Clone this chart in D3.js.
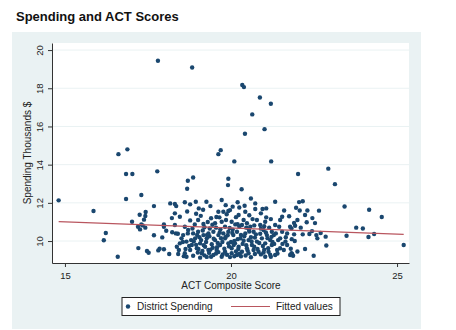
<!DOCTYPE html>
<html><head><meta charset="utf-8">
<script src="https://cdn.jsdelivr.net/npm/d3@7"></script>
<style>body{margin:0;background:#fff}svg{display:block}text{font-family:"Liberation Sans",Arial,sans-serif}</style>
</head><body><svg id="c" width="456" height="330"></svg>
<script>
const chartTitle = "Spending and ACT Scores";
const xTitle = "ACT Composite Score";
const yTitle = "Spending Thousands $";
const xTicks = [15, 20, 25];
const yTicks = [10, 12, 14, 16, 18, 20];
const legendLabels = ["District Spending", "Fitted values"];
// [ACT composite score, spending in thousands $]
const districts = [
[17.80,19.44],[18.83,19.09],[20.34,18.17],[20.39,18.06],[20.87,17.52],[21.20,17.19],[20.64,16.63],[21.01,15.86],[20.42,15.62],[16.88,14.80],[16.61,14.55],[19.69,14.76],[19.62,14.55],[20.10,14.17],[21.21,14.17],[17.78,13.65],[16.84,13.51],[17.03,13.51],[22.02,13.51],[22.93,13.79],[23.13,12.98],[18.70,13.16],[18.86,13.33],[18.68,12.74],[19.92,13.26],[19.91,12.93],[20.32,12.71],
[14.81,12.13],[15.86,11.57],[16.84,12.20],[17.30,12.41],[17.68,11.83],[17.02,11.01],[17.25,11.38],[17.43,11.52],[17.42,11.31],[17.30,10.87],[17.20,10.75],[17.26,10.61],[17.42,10.70],[16.23,10.42],[16.17,10.04],[16.59,9.18],[17.21,9.63],[17.47,9.48],[17.52,9.39],[17.68,10.30],[17.81,9.51],[17.85,9.60],[17.98,9.57],[18.14,9.32],[17.93,10.19],[18.05,10.54],[17.98,10.87],[17.98,10.75],[18.17,11.97],[18.31,11.94],[18.35,11.83],[18.31,11.45],[18.22,11.20],[18.46,11.27],[18.23,10.46],[18.34,10.40],[18.40,10.38],[18.37,9.70],[18.43,9.53],[18.46,9.88],[17.38,11.12],[17.34,10.82],[18.41,9.32],[18.58,9.21],[18.63,9.58],
[18.61,12.03],[18.77,11.92],[18.94,12.06],[19.26,12.06],[19.38,11.83],[19.72,12.15],[19.84,11.88],[19.97,11.62],[19.03,11.71],[19.16,11.64],[18.68,11.55],[19.62,11.53],[19.77,11.53],[19.92,11.57],[18.95,11.43],[19.09,11.32],[19.40,11.19],[19.56,11.26],[19.65,11.24],[19.87,11.40],[18.77,11.08],[19.01,11.10],[19.17,10.89],[18.91,10.87],[19.36,10.66],[19.52,10.93],[19.72,11.01],[18.31,10.84],[18.61,10.75],[19.82,10.75],[20.02,11.01],[18.56,10.31],[18.71,10.58],[18.86,10.40],[19.01,10.49],[19.17,10.31],[19.32,10.40],[19.47,10.49],[19.62,10.31],[19.77,10.40],[19.92,10.49],[20.07,10.31],[18.51,10.14],[18.92,10.14],[19.27,10.14],[19.52,10.05],[19.82,10.14],[18.66,9.97],[18.82,9.79],[19.07,9.88],[19.22,9.70],[19.42,9.83],[19.67,9.79],[19.92,9.88],[20.02,9.62],[18.77,9.53],[18.97,9.62],[19.32,9.53],[19.57,9.53],[19.82,9.44],[19.12,9.36],[18.61,9.36],[20.02,9.36],[18.86,9.23],[19.47,9.27],[19.72,9.18],[19.97,9.16],[18.66,9.18],[19.27,9.17],[19.07,9.13],
[20.60,12.23],[21.33,12.06],[20.20,12.03],[20.05,11.80],[20.25,11.76],[20.41,11.85],[20.73,11.97],[20.73,11.68],[20.95,11.68],[21.06,11.71],[20.23,11.36],[20.43,11.53],[20.65,11.15],[20.78,11.10],[21.06,11.24],[21.54,11.27],[21.48,11.10],[20.38,11.10],[20.48,10.93],[20.33,10.84],[20.13,10.87],[20.58,10.75],[21.23,10.49],[21.29,10.31],[21.54,10.49],[21.69,10.40],[21.82,10.66],[21.64,9.97],[21.48,9.62],[21.59,9.53],[21.82,9.36],[21.23,9.79],[21.03,9.88],[20.93,10.14],[20.78,9.97],[20.63,9.79],[20.48,9.62],[20.33,9.44],[20.18,9.27],[20.53,9.36],[20.83,9.44],[21.13,9.44],[21.33,9.27],[21.03,9.18],[20.18,10.49],[20.43,10.40],[20.68,10.49],[20.98,10.58],[21.08,10.31],[20.28,10.14],[20.53,10.05],[20.08,9.79],[21.33,10.84],[20.88,10.84],[21.03,11.01],[21.69,9.79],[21.48,10.14],[21.39,9.53],[20.68,9.53],[20.23,9.70],[21.18,10.05],
[22.05,12.04],[22.16,12.08],[21.96,11.74],[22.07,11.60],[22.65,11.59],[23.42,11.81],[22.23,11.36],[22.28,10.98],[22.53,10.94],[21.93,10.80],[21.78,10.75],[22.44,10.52],[22.36,10.37],[22.16,10.35],[21.90,10.35],[22.57,10.31],[22.70,10.42],[22.85,10.23],[22.60,10.14],[21.83,10.10],[21.92,10.00],[23.48,10.28],[22.23,9.58],[22.87,9.77],[22.49,9.23],[21.84,9.32],[21.87,9.23],[21.78,9.27],
[24.16,11.64],[24.54,11.26],[23.77,10.70],[23.97,10.66],[24.14,10.21],[24.31,10.37],[25.20,9.79],
[19.05,10.20],[19.15,10.55],[19.25,9.95],[19.35,10.25],[19.45,9.65],[19.55,10.70],[19.60,9.90],[19.70,10.15],[19.80,9.60],[19.90,10.30],[20.00,9.95],[20.05,10.60],[20.15,9.45],[20.20,10.10],[20.25,10.75],[20.35,9.85],[20.40,10.25],[20.50,9.50],[20.55,10.50],[20.60,10.20],[20.70,9.70],[20.75,10.35],[20.85,9.90],[20.90,10.65],[21.00,9.55],[21.10,10.15],[21.15,10.70],[21.25,9.95],[21.35,10.40],[21.40,9.35],[19.00,9.40],[19.20,9.25],[19.40,9.18],[19.55,9.35],[19.75,9.30],[20.10,9.20],[20.30,9.20],[20.60,9.15],[20.90,9.30],[21.20,9.18],[18.80,10.05],[18.95,9.80],[18.70,10.40],[18.55,9.95],[19.30,11.00],[19.85,11.10],[20.15,11.25],[20.55,11.35],[20.90,11.45],[21.20,11.15],[21.60,11.60],[21.75,11.30],[21.90,10.95],[21.45,10.75],[21.65,10.20],[21.55,9.85],[21.80,9.60],[22.00,9.45],[22.10,10.70],[22.30,11.60],[22.45,11.20],[22.00,11.10],
[19.10,10.05],[19.18,9.78],[19.28,10.32],[19.38,9.55],[19.48,10.12],[19.58,9.68],[19.66,10.45],[19.74,9.95],[19.84,10.22],[19.94,9.72],[20.04,10.42],[20.12,9.88],[20.22,9.58],[20.30,10.32],[20.38,10.02],[20.46,9.78],[20.54,10.62],[20.62,9.98],[20.72,10.18],[20.80,9.58],[20.88,10.38],[20.96,9.74],[21.05,10.45],[21.12,9.62],[21.22,10.22],[21.30,9.85],[21.42,10.05],[19.02,9.58],[19.14,9.48],[19.34,9.38],[19.62,9.42],[19.88,9.28],[20.26,9.34],[20.44,9.24],[20.72,9.32],[20.98,9.40],[21.18,9.28],[19.20,10.72],[19.44,10.85],[19.68,10.62],[19.96,10.68],[20.20,10.88],[20.46,10.70],[20.70,10.82],[21.00,10.78],[18.88,9.98],[18.74,9.74],[18.98,10.32],[18.84,10.66],[20.10,10.00]
];
const fitX = [14.81, 25.20];
const fitY = [11.02, 10.35];

const markerColor = "#1a476f", fitColor = "#b9565f";
const svg = d3.select("#c");
const L = 52, R = 409, T = 43, B = 263;
const x = d3.scaleLinear().domain([14.61, 25.36]).range([L, R]);
const y = d3.scaleLinear().domain([8.85, 20.37]).range([B, T]);

svg.append("rect").attr("x",12).attr("y",32).attr("width",409).attr("height",297).attr("fill","#eaf2f3");
svg.append("rect").attr("x",L).attr("y",T).attr("width",R-L).attr("height",B-T).attr("fill","#fff");

svg.append("text").attr("x",16).attr("y",21).attr("font-size",13).attr("font-weight","bold").attr("fill","#111").text(chartTitle);

svg.append("g").selectAll("line").data(yTicks).join("line")
  .attr("x1",L).attr("x2",R).attr("y1",d=>y(d)).attr("y2",d=>y(d))
  .attr("stroke","#eaf2f3").attr("stroke-width",1);

svg.append("g").selectAll("circle").data(districts).join("circle")
  .attr("cx",d=>x(d[0])).attr("cy",d=>y(d[1])).attr("r",2.2).attr("fill",markerColor);

svg.append("line").attr("x1",x(fitX[0])).attr("y1",y(fitY[0])).attr("x2",x(fitX[1])).attr("y2",y(fitY[1]))
  .attr("stroke",fitColor).attr("stroke-width",1.2);

const gx = svg.append("g").attr("transform",`translate(0,${B})`)
  .call(d3.axisBottom(x).tickValues(xTicks).tickSize(4).tickSizeOuter(0).tickPadding(5));
const gy = svg.append("g").attr("transform",`translate(${L},0)`)
  .call(d3.axisLeft(y).tickValues(yTicks).tickSize(4).tickSizeOuter(0));
[gx,gy].forEach(g=>{
  g.selectAll("path,line").attr("stroke","#333");
  g.selectAll("text").attr("font-size",9.5).attr("fill","#222").attr("font-family",'"Liberation Sans",Arial,sans-serif');
});
gy.selectAll("text").attr("transform","rotate(-90)").attr("x",0).attr("y",-9).attr("dy",0).style("text-anchor","middle");

svg.append("text").attr("x",(L+R)/2+0.5).attr("y",289).attr("text-anchor","middle").attr("font-size",10).attr("fill","#222").text(xTitle);
svg.append("text").attr("transform",`translate(31,${(T+B)/2}) rotate(-90)`).attr("text-anchor","middle").attr("font-size",10).attr("fill","#222").text(yTitle);

const lg = svg.append("g");
lg.append("rect").attr("x",122).attr("y",297.5).attr("width",218).attr("height",18).attr("fill","#fff").attr("stroke","#222").attr("stroke-width",1);
lg.append("circle").attr("cx",128).attr("cy",306.5).attr("r",2.2).attr("fill",markerColor);
lg.append("text").attr("x",137).attr("y",310).attr("font-size",10).attr("fill","#222").text(legendLabels[0]);
lg.append("line").attr("x1",231).attr("x2",270).attr("y1",306.5).attr("y2",306.5).attr("stroke",fitColor).attr("stroke-width",1.2);
lg.append("text").attr("x",276).attr("y",310).attr("font-size",10).attr("fill","#222").text(legendLabels[1]);
</script></body></html>
